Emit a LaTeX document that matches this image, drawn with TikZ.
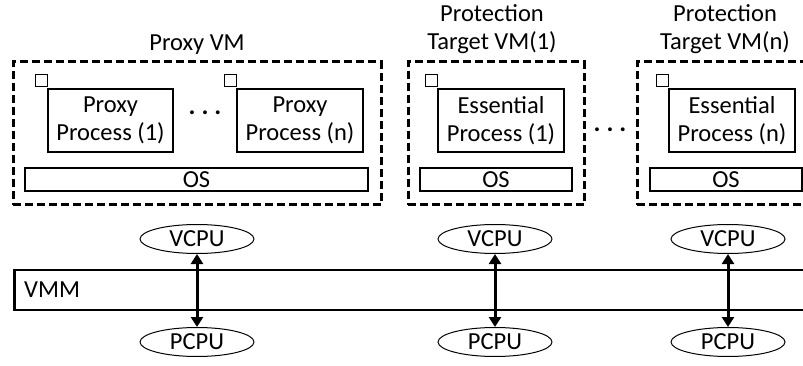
\documentclass[tikz,border=0pt]{standalone}
\usepackage{fontspec}
\setmainfont{Carlito}
\usetikzlibrary{shapes.geometric,arrows.meta}
\begin{document}
\begin{tikzpicture}[x=1pt,y=-1pt,
  font=\fontsize{24.5}{28}\selectfont,
  vmbox/.style={draw,line width=3pt,dash pattern=on 8pt off 4pt,inner sep=0pt},
  procbox/.style={draw,line width=1.5pt,inner sep=0pt,minimum width=126pt,minimum height=63pt,align=center},
  tag/.style={draw,line width=1.2pt,inner sep=0pt,minimum width=12pt,minimum height=12pt,anchor=south east},
  osbox/.style={draw,line width=1.5pt,inner sep=0pt,minimum height=23pt},
  cpu/.style={draw,ellipse,line width=1pt,inner sep=0pt,minimum width=114pt,minimum height=29pt},
  title/.style={align=center,inner sep=0pt},
  dots/.style={inner sep=0pt,font=\fontsize{26}{28}\selectfont\bfseries},
  link/.style={line width=3pt,{Triangle[length=10pt,width=12pt]}-{Triangle[length=10pt,width=12pt]}}
]
\useasboundingbox (0,0) rectangle (803,366);
\clip (0,0) rectangle (803,366);

% virtual machines (dashed frames)
\node[vmbox,minimum width=368pt,minimum height=143pt] (proxyvm) at (197,133.5) {};
\node[vmbox,minimum width=176pt,minimum height=143pt] (vm1) at (496,133.5) {};
\node[vmbox,minimum width=176pt,minimum height=143pt] (vmn) at (725,133.5) {};

% VM titles
\node[title] (tproxy) at (197,45) {Proxy VM};
\node[title] (tvm1) at (492,29) {Protection\\Target VM(1)};
\node[title] (tvmn) at (725,29) {Protection\\Target VM(n)};

% processes
\node[procbox,minimum width=125pt] (pp1) at (110.5,120.5) {Proxy\\Process (1)};
\node[procbox] (ppn) at (300,120.5) {Proxy\\Process (n)};
\node[procbox] (ep1) at (501,120.5) {Essential\\Process (1)};
\node[procbox] (epn) at (732,120.5) {Essential\\Process (n)};

\node[tag] (tg1) at ([shift={(1pt,1pt)}]pp1.north west) {};
\node[tag] (tg2) at ([shift={(1pt,1pt)}]ppn.north west) {};
\node[tag] (tg3) at ([shift={(1pt,1pt)}]ep1.north west) {};
\node[tag] (tg4) at ([shift={(1pt,1pt)}]epn.north west) {};

\node[dots] (d1) at (205,113) {.\hspace{6pt}.\hspace{6pt}.};
\node[dots] (d2) at (610,130) {.\hspace{6pt}.\hspace{6pt}.};

% guest operating systems
\node[osbox,minimum width=343pt] (os0) at (196.5,179.5) {OS};
\node[osbox,minimum width=152pt] (os1) at (496,179.5) {OS};
\node[osbox,minimum width=152pt] (os2) at (726,179.5) {OS};

% hypervisor layer
\node[draw,line width=2.5pt,inner sep=0pt,minimum width=820pt,minimum height=40pt,anchor=west] (vmm) at (13,290) {};
\node[anchor=west,inner sep=0pt] (vmmlabel) at (24,290) {VMM};

% virtual and physical CPUs
\node[cpu] (v0) at (197,239) {VCPU};
\node[cpu] (v1) at (495,239) {VCPU};
\node[cpu] (v2) at (728,239) {VCPU};
\node[cpu] (p0) at (197,342) {PCPU};
\node[cpu] (p1) at (495,342) {PCPU};
\node[cpu] (p2) at (728,342) {PCPU};

\draw[link] (v0.south) -- (p0.north);
\draw[link] (v1.south) -- (p1.north);
\draw[link] (v2.south) -- (p2.north);
\end{tikzpicture}
\end{document}
